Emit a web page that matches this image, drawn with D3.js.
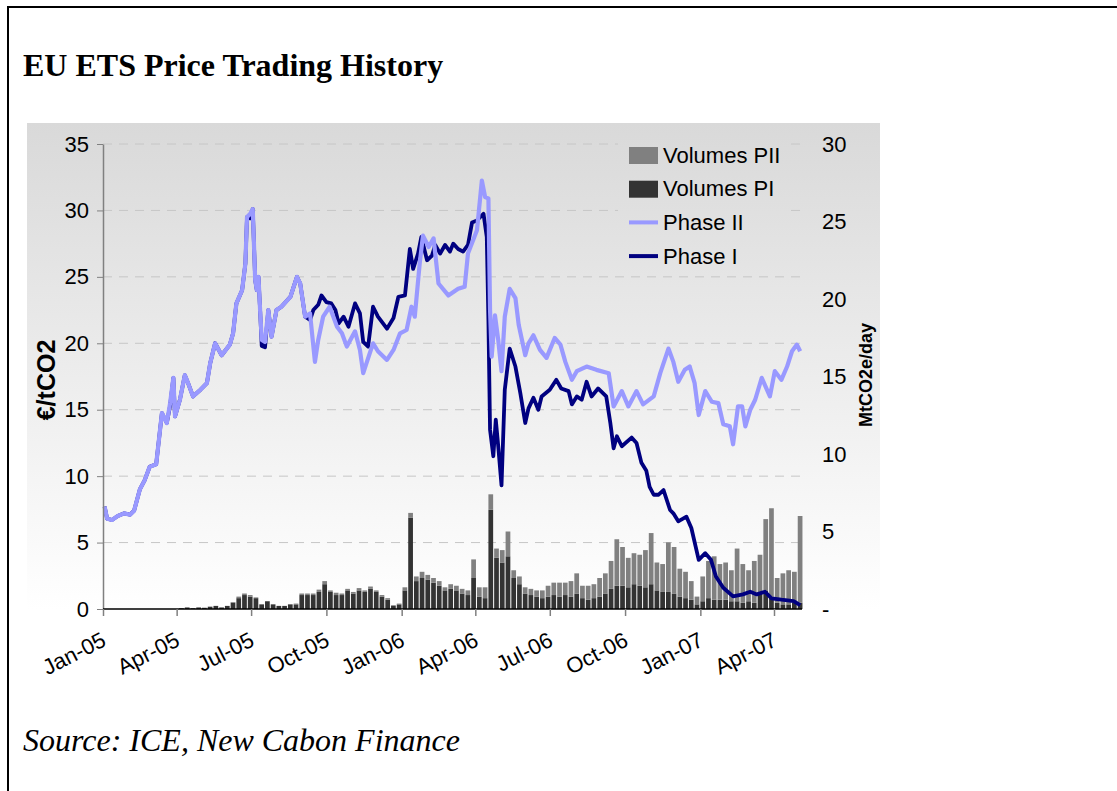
<!DOCTYPE html>
<html>
<head>
<meta charset="utf-8">
<script src="https://cdn.jsdelivr.net/npm/d3@7"></script>
<style>
  body { margin: 0; background: #fff; }
  svg { display: block; }
</style>
</head>
<body>
<svg width="1117" height="791"></svg>
<script>
// Phase II price (EUR/tCO2)
const phaseIIDates = ["2005-01-03","2005-01-06","2005-01-12","2005-01-19","2005-01-27","2005-02-03","2005-02-08","2005-02-15","2005-02-21","2005-02-27","2005-03-07","2005-03-14","2005-03-20","2005-03-24","2005-03-28","2005-03-30","2005-04-05","2005-04-11","2005-04-15","2005-04-21","2005-04-30","2005-05-08","2005-05-12","2005-05-18","2005-05-26","2005-06-05","2005-06-09","2005-06-13","2005-06-20","2005-06-24","2005-06-26","2005-06-30","2005-07-03","2005-07-06","2005-07-08","2005-07-10","2005-07-12","2005-07-14","2005-07-18","2005-07-22","2005-07-26","2005-08-01","2005-08-07","2005-08-18","2005-08-26","2005-08-30","2005-09-05","2005-09-11","2005-09-17","2005-09-21","2005-09-27","2005-10-05","2005-10-14","2005-10-20","2005-10-26","2005-11-05","2005-11-11","2005-11-15","2005-11-19","2005-11-27","2005-12-03","2005-12-14","2005-12-22","2005-12-30","2006-01-07","2006-01-13","2006-01-17","2006-01-23","2006-01-27","2006-02-03","2006-02-09","2006-02-15","2006-02-27","2006-03-11","2006-03-19","2006-03-23","2006-04-03","2006-04-09","2006-04-13","2006-04-17","2006-04-19","2006-04-21","2006-04-25","2006-04-29","2006-05-03","2006-05-07","2006-05-13","2006-05-20","2006-05-24","2006-06-01","2006-06-05","2006-06-11","2006-06-19","2006-06-27","2006-07-07","2006-07-14","2006-07-20","2006-07-28","2006-08-03","2006-08-15","2006-08-27","2006-09-11","2006-09-17","2006-09-27","2006-10-05","2006-10-15","2006-10-23","2006-11-05","2006-11-13","2006-11-23","2006-11-29","2006-12-05","2006-12-13","2006-12-19","2006-12-25","2006-12-30","2007-01-07","2007-01-15","2007-01-23","2007-01-29","2007-02-06","2007-02-10","2007-02-16","2007-02-21","2007-02-25","2007-03-03","2007-03-09","2007-03-17","2007-03-27","2007-04-02","2007-04-10","2007-04-17","2007-04-23","2007-04-29","2007-05-03"];
const phaseIIPrices = [7.7,6.8,6.7,7.0,7.2,7.1,7.4,9.0,9.7,10.7,10.9,14.75,14.0,15.5,17.4,14.5,15.75,17.6,17.0,16.0,16.5,17.0,18.5,20.0,19.1,19.9,20.75,23.0,24.0,26.0,29.5,29.75,30.1,24.75,24.0,25.0,22.5,20.25,20.1,22.5,20.5,22.5,22.75,23.5,25.0,24.5,22.0,22.25,18.6,20.25,22.0,22.75,21.25,20.75,19.75,20.9,19.5,17.75,18.5,20.0,19.4,18.75,19.5,20.75,21.0,22.75,22.0,26.0,28.1,27.25,27.9,24.5,23.6,24.1,24.25,26.75,28.5,32.25,31.0,30.9,22.5,19.0,22.1,20.25,17.9,22.0,24.1,23.4,21.4,19.1,20.0,20.6,19.5,18.9,20.4,19.9,18.6,17.25,17.9,18.25,18.0,17.75,15.25,16.4,15.25,16.4,15.4,16.0,17.75,19.6,18.6,17.1,18.0,18.25,17.0,14.6,16.4,15.6,15.5,13.9,13.75,12.4,15.25,15.25,13.75,15.0,15.75,17.4,16.0,17.9,17.25,18.25,19.4,19.9,19.4];

// Phase I price (EUR/tCO2)
const phaseIDates = ["2005-01-03","2005-01-06","2005-01-12","2005-01-19","2005-01-27","2005-02-03","2005-02-08","2005-02-15","2005-02-21","2005-02-27","2005-03-07","2005-03-14","2005-03-20","2005-03-24","2005-03-28","2005-03-30","2005-04-05","2005-04-11","2005-04-15","2005-04-21","2005-04-30","2005-05-08","2005-05-12","2005-05-18","2005-05-26","2005-06-05","2005-06-09","2005-06-13","2005-06-20","2005-06-24","2005-06-26","2005-06-30","2005-07-03","2005-07-06","2005-07-08","2005-07-10","2005-07-12","2005-07-14","2005-07-18","2005-07-22","2005-07-26","2005-08-01","2005-08-07","2005-08-18","2005-08-26","2005-08-30","2005-09-05","2005-09-11","2005-09-15","2005-09-21","2005-09-25","2005-10-01","2005-10-07","2005-10-12","2005-10-16","2005-10-22","2005-10-28","2005-11-05","2005-11-11","2005-11-15","2005-11-21","2005-11-27","2005-12-03","2005-12-14","2005-12-22","2005-12-28","2006-01-05","2006-01-11","2006-01-15","2006-01-21","2006-01-25","2006-02-01","2006-02-07","2006-02-11","2006-02-17","2006-02-23","2006-03-01","2006-03-05","2006-03-11","2006-03-17","2006-03-23","2006-03-28","2006-04-03","2006-04-11","2006-04-15","2006-04-17","2006-04-19","2006-04-23","2006-04-26","2006-04-29","2006-05-03","2006-05-07","2006-05-13","2006-05-20","2006-05-26","2006-06-01","2006-06-05","2006-06-11","2006-06-17","2006-06-21","2006-07-01","2006-07-09","2006-07-15","2006-07-24","2006-07-28","2006-08-03","2006-08-09","2006-08-15","2006-08-21","2006-08-29","2006-09-08","2006-09-13","2006-09-17","2006-09-21","2006-09-27","2006-10-09","2006-10-15","2006-10-21","2006-10-27","2006-10-31","2006-11-05","2006-11-11","2006-11-17","2006-11-25","2006-11-29","2006-12-05","2006-12-15","2006-12-21","2006-12-30","2007-01-07","2007-01-14","2007-01-20","2007-01-29","2007-02-10","2007-02-22","2007-03-03","2007-03-11","2007-03-21","2007-03-29","2007-04-10","2007-04-25","2007-05-03"];
const phaseIPrices = [7.7,6.8,6.7,7.0,7.2,7.1,7.4,9.0,9.7,10.7,10.9,14.75,14.0,15.3,17.4,14.5,15.75,17.6,17.0,16.0,16.5,17.0,18.5,20.0,19.1,19.9,20.75,23.0,24.0,26.0,29.5,29.4,30.1,24.75,24.0,25.0,22.5,19.8,19.7,22.5,20.5,22.5,22.75,23.5,25.0,24.5,22.0,21.75,22.5,22.9,23.6,23.1,23.0,22.5,21.5,22.0,21.25,23.0,22.25,20.1,19.75,22.75,22.0,21.1,21.9,23.5,23.6,27.1,25.6,26.75,28.0,26.25,26.6,27.4,26.75,27.4,26.9,27.5,27.1,26.9,27.4,29.1,29.25,29.75,28.0,21.75,13.5,11.5,14.25,12.25,9.3,16.5,19.6,18.25,16.25,14.0,15.1,15.9,15.0,16.0,16.5,17.25,16.6,16.4,15.4,16.0,15.75,17.1,16.0,16.6,16.0,14.0,12.1,13.0,12.25,12.9,12.5,11.0,10.4,9.2,8.6,8.6,8.95,7.45,7.2,6.6,6.95,6.1,3.7,4.2,3.7,2.45,1.6,0.95,1.1,1.3,1.1,1.3,0.8,0.7,0.6,0.3];

// Weekly traded volumes (MtCO2e/day), weeks starting 2005-04-04
const firstWeek = "2005-04-04";
const volumesPI = [0.05,0.1,0.05,0.1,0.08,0.15,0.2,0.1,0.2,0.4, 0.7,0.9,0.8,0.7,0.3,0.5,0.3,0.2,0.2,0.3, 0.3,0.9,0.9,0.9,1.1,1.6,1.1,0.9,0.9,1.2, 1.0,1.2,1.1,1.3,1.1,0.8,0.6,0.2,0.3,1.2, 5.9,1.8,2.0,1.9,1.7,1.5,1.2,1.3,1.2,1.0, 0.9,2.0,0.8,0.7,6.4,3.3,3.0,3.4,2.0,1.6, 1.0,0.9,0.8,0.7,0.8,0.9,0.8,0.9,0.8,1.0, 0.7,0.6,0.7,0.8,1.0,1.3,1.5,1.5,1.4,1.6, 1.5,1.4,1.6,1.2,1.1,1.1,1.0,0.8,0.7,0.6, 0.3,0.5,0.7,0.6,0.6,0.6,0.5,0.5,0.4,0.5, 0.4,1.0,1.2,0.8,0.4,0.3,0.3,0.4,0.4];
const volumesPII = [0,0,0,0,0,0,0,0,0,0.05, 0.1,0.1,0.1,0.05,0,0,0,0,0,0, 0.05,0.1,0.1,0.1,0.15,0.2,0.1,0.15,0.1,0.1, 0.1,0.15,0.1,0.15,0.1,0.1,0.1,0.05,0.05,0.2, 0.3,0.3,0.4,0.3,0.3,0.3,0.2,0.3,0.3,0.3, 0.3,1.2,0.6,0.7,1.0,0.6,0.8,1.6,0.5,0.5, 0.4,0.4,0.4,0.5,0.7,0.8,0.9,0.8,1.0,1.3, 0.8,0.9,0.9,1.2,1.3,1.8,3.0,2.5,1.9,2.0, 2.0,2.4,3.3,1.8,1.8,3.2,3.0,1.8,1.7,1.2, 0.5,1.6,2.4,2.8,2.3,2.4,2.0,3.4,2.5,2.0, 2.7,2.5,4.6,5.7,1.6,2.0,2.2,2.0,5.6];

// Axis ticks
const quarterTicks = ["2005-01-01","2005-04-01","2005-07-01","2005-10-01","2006-01-01","2006-04-01","2006-07-01","2006-10-01","2007-01-01","2007-04-01"];
const priceTicks = [0, 5, 10, 15, 20, 25, 30, 35];
const volumeTicks = [0, 5, 10, 15, 20, 25, 30];

const parse = d3.timeParse("%Y-%m-%d");
const svg = d3.select("svg");

const x = d3.scaleTime().domain([parse("2005-01-01"), parse("2007-04-01")]).range([103, 774]);
const yPrice = d3.scaleLinear().domain([0, 35]).range([609, 144]);
const yVol = d3.scaleLinear().domain([0, 30]).range([609, 144]);
const plotRight = 802;

// Background gradient
const grad = svg.append("defs").append("linearGradient")
  .attr("id", "bg").attr("gradientUnits", "userSpaceOnUse")
  .attr("x1", 0).attr("y1", 123).attr("x2", 0).attr("y2", 609);
grad.append("stop").attr("offset", 0).attr("stop-color", "#d9d9d9");
grad.append("stop").attr("offset", 1).attr("stop-color", "#ffffff");

// Page frame
svg.append("rect").attr("x", 8).attr("y", 7).attr("width", 1130).attr("height", 800)
  .attr("fill", "none").attr("stroke", "#000").attr("stroke-width", 2);

svg.append("text").attr("x", 23).attr("y", 76)
  .style("font", "bold 32px 'Liberation Serif', 'Times New Roman', serif")
  .text("EU ETS Price Trading History");

svg.append("rect").attr("x", 27).attr("y", 123).attr("width", 853).attr("height", 486)
  .attr("fill", "url(#bg)");

// Gridlines
svg.append("g").selectAll("line").data(priceTicks.slice(1)).enter().append("line")
  .attr("x1", 103).attr("x2", plotRight)
  .attr("y1", d => yPrice(d)).attr("y2", d => yPrice(d))
  .attr("stroke", "#c6c6c6").attr("stroke-width", 1).attr("stroke-dasharray", "9,7");

// Volume bars (stacked: PI at bottom, PII on top)
const weeks = volumesPI.map((v, i) => ({
  start: d3.timeDay.offset(parse(firstWeek), 7 * i),
  pi: v,
  pii: volumesPII[i]
}));
const barW = d => x(d3.timeDay.offset(d.start, 7)) - x(d.start) - 1;
const bars = svg.append("g");
bars.selectAll("rect.pi").data(weeks).enter().append("rect").attr("class", "pi")
  .attr("x", d => x(d.start)).attr("width", barW)
  .attr("y", d => yVol(d.pi)).attr("height", d => yVol(0) - yVol(d.pi))
  .attr("fill", "#333333");
bars.selectAll("rect.pii").data(weeks).enter().append("rect").attr("class", "pii")
  .attr("x", d => x(d.start)).attr("width", barW)
  .attr("y", d => yVol(d.pi + d.pii)).attr("height", d => yVol(d.pi) - yVol(d.pi + d.pii))
  .attr("fill", "#808080");

// Price lines
const line = d3.line().x(d => x(d.date)).y(d => yPrice(d.v));
const phaseI = phaseIDates.map((d, i) => ({ date: parse(d), v: phaseIPrices[i] }));
const phaseII = phaseIIDates.map((d, i) => ({ date: parse(d), v: phaseIIPrices[i] }));
svg.append("path").datum(phaseI).attr("d", line)
  .attr("fill", "none").attr("stroke", "#000080").attr("stroke-width", 3.8).attr("stroke-linejoin", "round");
svg.append("path").datum(phaseII).attr("d", line)
  .attr("fill", "none").attr("stroke", "#9999ff").attr("stroke-width", 4.2).attr("stroke-linejoin", "round");

// Left axis
const axisFont = "22px 'Liberation Sans', Arial, sans-serif";
const leftAxis = svg.append("g").attr("transform", "translate(103,0)")
  .call(d3.axisLeft(yPrice).tickValues(priceTicks).tickSize(6).tickSizeOuter(0).tickPadding(8));
leftAxis.select(".domain").attr("stroke", "#808080").attr("stroke-width", 1.5);
leftAxis.selectAll(".tick line").attr("stroke", "#808080");
leftAxis.selectAll("text").style("font", axisFont).attr("fill", "#000");

// Right axis
const rightAxis = svg.append("g").attr("transform", `translate(${plotRight},0)`)
  .call(d3.axisRight(yVol).tickValues(volumeTicks).tickSize(0).tickPadding(20)
    .tickFormat(d => d === 0 ? "-" : d));
rightAxis.select(".domain").remove();
rightAxis.selectAll("text").style("font", axisFont).attr("fill", "#000");

// Bottom axis
svg.append("line").attr("x1", 103).attr("x2", plotRight).attr("y1", 609).attr("y2", 609)
  .attr("stroke", "#000").attr("stroke-width", 1.5);
const bottomAxis = svg.append("g").attr("transform", "translate(0,609)")
  .call(d3.axisBottom(x).tickValues(quarterTicks.map(parse)).tickSize(7).tickSizeOuter(0)
    .tickFormat(d3.timeFormat("%b-%y")));
bottomAxis.select(".domain").remove();
bottomAxis.selectAll(".tick line").attr("stroke", "#808080").attr("stroke-width", 1.5);
bottomAxis.selectAll("text")
  .style("font", "22px 'Liberation Sans', Arial, sans-serif").attr("fill", "#000")
  .attr("text-anchor", "end").attr("dy", null).attr("y", 0)
  .attr("transform", "translate(4,36) rotate(-27)");

// Axis titles
svg.append("text").attr("transform", "translate(55,380) rotate(-90)")
  .attr("text-anchor", "middle")
  .style("font", "bold 25px 'Liberation Sans', Arial, sans-serif")
  .text("€/tCO2");
svg.append("text").attr("transform", "translate(872,375) rotate(-90)")
  .attr("text-anchor", "middle")
  .style("font", "bold 18px 'Liberation Sans', Arial, sans-serif")
  .text("MtCO2e/day");

// Legend
const legendItems = [
  { name: "Volumes PII", type: "box", color: "#808080" },
  { name: "Volumes PI", type: "box", color: "#333333" },
  { name: "Phase II", type: "line", color: "#9999ff" },
  { name: "Phase I", type: "line", color: "#000080" }
];
svg.append("rect").attr("x", 618).attr("y", 138).attr("width", 168).attr("height", 130)
  .attr("fill", "url(#bg)");
const legend = svg.append("g").selectAll("g").data(legendItems).enter().append("g")
  .attr("transform", (d, i) => `translate(629,${155 + i * 33.7})`);
legend.filter(d => d.type === "box").append("rect")
  .attr("x", 0).attr("y", -8).attr("width", 29).attr("height", 17).attr("fill", d => d.color);
legend.filter(d => d.type === "line").append("line")
  .attr("x1", 0).attr("x2", 29).attr("y1", 0).attr("y2", 0)
  .attr("stroke", d => d.color).attr("stroke-width", 4);
legend.append("text").attr("x", 34).attr("y", 0).attr("dy", "0.35em")
  .style("font", axisFont).text(d => d.name);

// Source
svg.append("text").attr("x", 23).attr("y", 751)
  .style("font", "italic 32px 'Liberation Serif', 'Times New Roman', serif")
  .text("Source: ICE, New Cabon Finance");
</script>
</body>
</html>
